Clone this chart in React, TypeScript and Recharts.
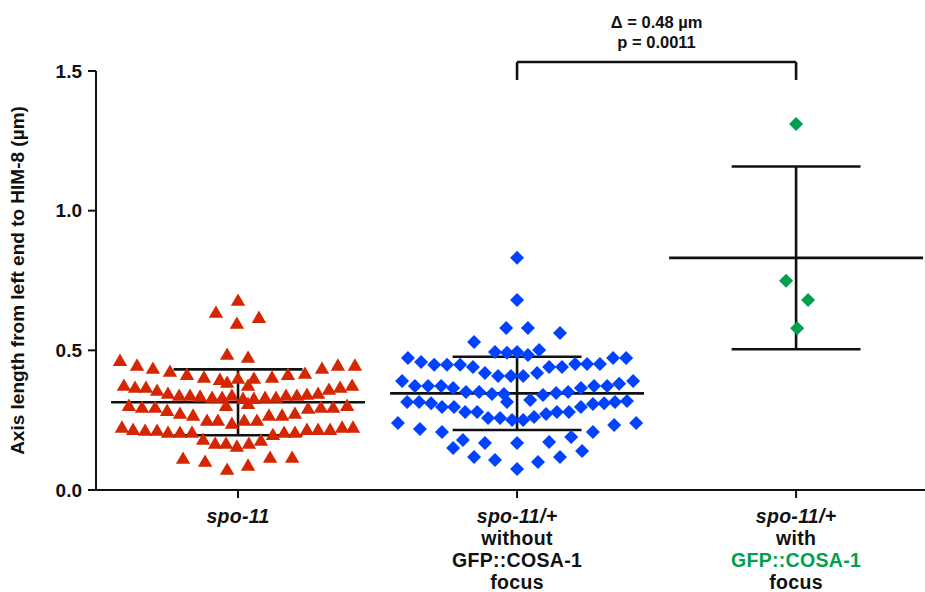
import React from 'react';
import { ScatterChart, Scatter, XAxis, YAxis, ReferenceLine, ReferenceDot, Label } from 'recharts';

// ---------- data ----------
const categories = [1, 2, 3];
const categoryLabels: string[][] = [
  ['spo-11'],
  ['spo-11/+', 'without', 'GFP::COSA-1', 'focus'],
  ['spo-11/+', 'with', 'GFP::COSA-1', 'focus'],
];
const yTicks = [0, 0.5, 1.0, 1.5];
const yLabel = 'Axis length from left end to HIM-8 (µm)';

// [offset from category centre (category units), value (µm)]
const spo11Points: [number, number][] = [
  [-0.079, 0.637], [-0.039, 0.487], [-0.423, 0.465], [-0.362, 0.448], [-0.305, 0.437], [-0.244, 0.426], [-0.183, 0.415], [-0.122, 0.405], [-0.065, 0.397], [-0.039, 0.387],
  [-0.409, 0.376], [-0.369, 0.369], [-0.330, 0.369], [-0.290, 0.358], [-0.251, 0.347], [-0.211, 0.340], [-0.172, 0.340], [-0.136, 0.337], [-0.093, 0.333], [-0.057, 0.333], [-0.022, 0.340],
  [-0.391, 0.304], [-0.344, 0.297], [-0.297, 0.297], [-0.254, 0.286], [-0.208, 0.276], [-0.161, 0.269], [-0.111, 0.251], [-0.072, 0.251], [-0.043, 0.304], [-0.022, 0.240],
  [-0.416, 0.226], [-0.376, 0.218], [-0.333, 0.215], [-0.290, 0.215], [-0.251, 0.208], [-0.208, 0.208], [-0.165, 0.208], [-0.125, 0.183], [-0.082, 0.168], [-0.043, 0.168],
  [-0.197, 0.115], [-0.118, 0.104], [-0.039, 0.075],
  [0, 0.680], [-0.004, 0.598], [0.075, 0.619], [0.036, 0.476], [0.301, 0.437], [0.358, 0.448], [0.419, 0.448], [0.240, 0.419], [0.179, 0.415], [0.122, 0.405], [0.057, 0.401], [0.036, 0.376], [0, 0.401],
  [0.409, 0.376], [0.366, 0.369], [0.326, 0.362], [0.287, 0.347], [0.247, 0.344], [0.211, 0.340], [0.172, 0.340], [0.136, 0.333], [0.097, 0.333], [0.057, 0.329], [0.018, 0.329], [0.036, 0.311],
  [0.391, 0.304], [0.341, 0.297], [0.297, 0.297], [0.251, 0.294], [0.204, 0.276], [0.158, 0.269], [0.111, 0.269], [0.068, 0.251], [0.022, 0.251],
  [0.412, 0.226], [0.373, 0.226], [0.330, 0.218], [0.287, 0.218], [0.247, 0.218], [0.204, 0.208], [0.165, 0.208], [0.125, 0.200], [0.082, 0.179], [0.039, 0.168], [-0.004, 0.158],
  [0.115, 0.118], [0.194, 0.118], [0.036, 0.090],
];

const withoutFocusPoints: [number, number][] = [
  [0, 0.831], [0, 0.680], [-0.039, 0.580], [-0.154, 0.530], [-0.079, 0.494], [-0.036, 0.491],
  [-0.391, 0.473], [-0.344, 0.458], [-0.297, 0.448], [-0.251, 0.448], [-0.204, 0.448], [-0.158, 0.440], [-0.115, 0.419], [-0.068, 0.408], [-0.022, 0.408],
  [-0.412, 0.390], [-0.366, 0.372], [-0.319, 0.372], [-0.272, 0.372], [-0.229, 0.365], [-0.183, 0.351], [-0.136, 0.351], [-0.090, 0.344], [-0.047, 0.344],
  [-0.394, 0.315], [-0.351, 0.315], [-0.308, 0.311], [-0.269, 0.297], [-0.226, 0.297], [-0.186, 0.279], [-0.143, 0.279], [-0.104, 0.258], [-0.061, 0.258], [-0.018, 0.251], [-0.036, 0.315],
  [-0.427, 0.240], [-0.348, 0.218], [-0.269, 0.208], [-0.194, 0.179], [-0.229, 0.150], [-0.115, 0.168], [-0.154, 0.118], [-0.079, 0.107],
  [0, 0.494], [0.039, 0.580], [0.154, 0.562], [0.039, 0.483], [0.079, 0.501], [0.344, 0.473], [0.391, 0.473], [0.115, 0.440], [0.161, 0.440], [0.208, 0.451], [0.251, 0.451], [0.297, 0.451],
  [0.022, 0.408], [0.072, 0.419], [0.416, 0.390], [0.366, 0.380], [0.323, 0.372], [0.276, 0.372], [0.229, 0.365], [0.183, 0.351], [0.140, 0.347], [0.093, 0.340], [0.047, 0.322],
  [0.394, 0.319], [0.351, 0.315], [0.312, 0.311], [0.272, 0.308], [0.229, 0.297], [0.186, 0.279], [0.143, 0.279], [0.104, 0.272], [0.061, 0.261], [0.022, 0.251],
  [0.427, 0.240], [0.348, 0.233], [0.272, 0.208], [0.194, 0.190], [0.115, 0.172], [0, 0.168], [0.233, 0.140], [0.154, 0.118], [0.075, 0.100], [0, 0.075],
];

const withFocusPoints: [number, number][] = [
  [0, 1.31], [-0.036, 0.749], [0.043, 0.680], [0.004, 0.579],
];

const groupMeans = [0.314, 0.346, 0.831];
const groupSDs = [0.118, 0.131, 0.327];

const comparisonGroups = [2, 3];
const comparisonText = ['Δ = 0.48 µm', 'p = 0.0011'];
const bracketTop = 1.532;
const bracketLegBottom = 1.468;

// ---------- styling ----------
const FONT = '"Liberation Sans", Arial, Helvetica, sans-serif';
const RED = '#D42600';
const BLUE = '#0042FF';
const GREEN = '#00A14E';
const INK = '#111';

const MEAN_HALF = 0.455;
const CAP_HALF = 0.231;
const X_DOMAIN: [number, number] = [0.491, 3.462];

const toData = (cat: number, pts: [number, number][]) => pts.map(([dx, v]) => ({ x: cat + dx, y: v }));

const Triangle = (p: any) => {
  const { cx, cy } = p;
  if (cx == null || cy == null) return null;
  return <polygon points={`${cx},${cy - 6.5} ${cx + 7.2},${cy + 5.8} ${cx - 7.2},${cy + 5.8}`} fill={RED} />;
};
const makeDiamond = (color: string) => (p: any) => {
  const { cx, cy } = p;
  if (cx == null || cy == null) return null;
  return <polygon points={`${cx},${cy - 7} ${cx + 7},${cy} ${cx},${cy + 7} ${cx - 7},${cy}`} fill={color} />;
};

const CategoryTick = (props: any) => {
  const { x, y, payload } = props;
  const idx = categories.indexOf(payload.value);
  const lines = categoryLabels[idx] || [];
  return (
    <g>
      {lines.map((t, i) => (
        <text
          key={i}
          x={x}
          y={y + 23 + i * 22}
          textAnchor="middle"
          fontFamily={FONT}
          fontWeight="bold"
          fontSize={19.5}
          letterSpacing={0.3}
          fontStyle={i === 0 ? 'italic' : 'normal'}
          fill={idx === 2 && i === 2 ? GREEN : INK}
        >
          {t}
        </text>
      ))}
    </g>
  );
};

const YLabelContent = (props: any) => {
  const vb = props.viewBox || { x: 0, y: 71, width: 96, height: 419 };
  const cx = vb.x + 24;
  const cy = vb.y + vb.height / 2;
  return (
    <text
      x={cx}
      y={cy}
      transform={`rotate(-90 ${cx} ${cy})`}
      textAnchor="middle"
      fontFamily={FONT}
      fontWeight="bold"
      fontSize={19}
      fill={INK}
    >
      {yLabel}
    </text>
  );
};

const AnnotationShape = (p: any) => {
  const { cx, cy } = p;
  if (cx == null || cy == null) return null;
  return (
    <g>
      {comparisonText.map((t, i) => (
        <text key={i} x={cx} y={cy - 34 + i * 20} textAnchor="middle" fontFamily={FONT} fontWeight="bold" fontSize={16.5} fill={INK}>
          {t}
        </text>
      ))}
    </g>
  );
};

export default function App() {
  const lineProps = { stroke: INK, strokeWidth: 2.6, ifOverflow: 'visible' as const };
  return (
    <div style={{ position: 'absolute', left: 0, top: 0, width: 925, height: 592, background: '#fff' }}>
      <ScatterChart width={925} height={592} margin={{ top: 71, right: 0, bottom: 0, left: 0 }}>
        <XAxis
          type="number"
          dataKey="x"
          domain={X_DOMAIN}
          ticks={categories}
          allowDataOverflow
          height={102}
          tickSize={8}
          tickMargin={2}
          axisLine={{ stroke: INK, strokeWidth: 2 }}
          tickLine={{ stroke: INK, strokeWidth: 2 }}
          tick={<CategoryTick />}
          interval={0}
        />
        <YAxis
          type="number"
          dataKey="y"
          domain={[0, 1.5]}
          ticks={yTicks}
          allowDataOverflow
          width={96}
          tickSize={8}
          tickMargin={6}
          axisLine={{ stroke: INK, strokeWidth: 2 }}
          tickLine={{ stroke: INK, strokeWidth: 2 }}
          tickFormatter={(v: number) => v.toFixed(1)}
          tick={{ fontFamily: FONT, fontWeight: 'bold', fontSize: 19, fill: INK }}
        >
          <Label content={<YLabelContent />} />
        </YAxis>

        <Scatter data={toData(1, spo11Points)} shape={Triangle} isAnimationActive={false} />
        <Scatter data={toData(2, withoutFocusPoints)} shape={makeDiamond(BLUE)} isAnimationActive={false} />
        <Scatter data={toData(3, withFocusPoints)} shape={makeDiamond(GREEN)} isAnimationActive={false} />

        {categories.map((c, i) => {
          const m = groupMeans[i];
          const s = groupSDs[i];
          return (
            <React.Fragment key={c}>
              <ReferenceLine segment={[{ x: c - MEAN_HALF, y: m }, { x: c + MEAN_HALF, y: m }]} {...lineProps} />
              <ReferenceLine segment={[{ x: c - CAP_HALF, y: m + s }, { x: c + CAP_HALF, y: m + s }]} {...lineProps} />
              <ReferenceLine segment={[{ x: c - CAP_HALF, y: m - s }, { x: c + CAP_HALF, y: m - s }]} {...lineProps} />
              <ReferenceLine segment={[{ x: c, y: m - s }, { x: c, y: m + s }]} {...lineProps} />
            </React.Fragment>
          );
        })}

        <ReferenceLine segment={[{ x: comparisonGroups[0], y: bracketTop }, { x: comparisonGroups[1], y: bracketTop }]} {...lineProps} />
        <ReferenceLine segment={[{ x: comparisonGroups[0], y: bracketTop }, { x: comparisonGroups[0], y: bracketLegBottom }]} {...lineProps} />
        <ReferenceLine segment={[{ x: comparisonGroups[1], y: bracketTop }, { x: comparisonGroups[1], y: bracketLegBottom }]} {...lineProps} />
        <ReferenceDot
          x={(comparisonGroups[0] + comparisonGroups[1]) / 2}
          y={bracketTop}
          r={0}
          ifOverflow="visible"
          shape={AnnotationShape}
        />
      </ScatterChart>
    </div>
  );
}
